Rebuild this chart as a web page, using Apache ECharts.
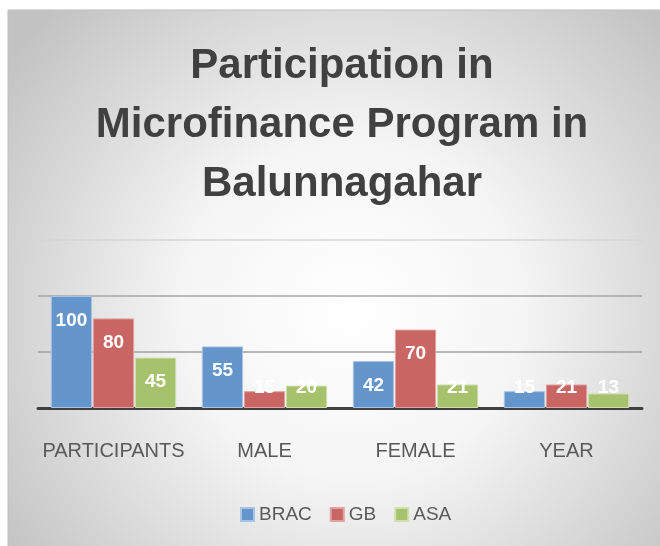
<!DOCTYPE html>
<html><head><meta charset="utf-8">
<script src="https://cdn.jsdelivr.net/npm/echarts@6/dist/echarts.min.js"></script>
<style>html,body{margin:0;padding:0;background:#fff}#c{width:660px;height:546px}</style>
</head><body><div id="c"></div>
<script>
const categories = ['PARTICIPANTS', 'MALE', 'FEMALE', 'YEAR'];
const brac = [100, 55, 42, 15];
const gb = [80, 15, 70, 21];
const asa = [45, 20, 21, 13];
const seriesNames = ['BRAC', 'GB', 'ASA'];
const yTicks = [0, 50, 100, 150];

const colors = ['#6495cb', '#c96562', '#a7c26c'];
const borders = ['#a9c4e6', '#e0a3a1', '#cfe0ad'];

function mk(vals, i) {
  return {
    name: seriesNames[i], type: 'bar', barGap: '2%', barCategoryGap: '17%',
    itemStyle: { color: colors[i], borderColor: borders[i], borderWidth: 1 },
    label: { show: true, position: 'insideTop', distance: 15, color: '#fff', fontWeight: 'bold',
      fontSize: 19, fontFamily: 'Liberation Sans, sans-serif' },
    data: vals.map(v => v < 30 ? { value: v, label: { position: 'insideBottom', distance: 11 } } : v)
  };
}

const chart = echarts.init(document.getElementById('c'), null, { renderer: 'canvas' });
chart.setOption({
  animation: false,
  graphic: [{
    type: 'rect', z: -10, silent: true,
    shape: { x: 8, y: 10, width: 660, height: 545 },
    style: {
      fill: { type: 'radial', x: 0.52, y: 0.55, r: 0.78,
        colorStops: [{ offset: 0, color: '#ffffff' }, { offset: 0.4, color: '#f5f5f5' }, { offset: 1, color: '#c2c2c2' }] },
      stroke: '#bdbdbd', lineWidth: 1
    }
  }],
  title: {
    text: 'Participation in\nMicrofinance Program in\nBalunnagahar',
    left: 337, textAlign: 'center', top: 32,
    textStyle: { fontFamily: 'Liberation Sans, sans-serif', fontWeight: 'bold',
      fontSize: 42, color: '#404040', lineHeight: 59 }
  },
  legend: {
    bottom: 17, left: 235, itemWidth: 13, itemHeight: 13, itemGap: 18,
    icon: 'rect',
    textStyle: { fontSize: 19, color: '#595959', fontFamily: 'Liberation Sans, sans-serif' },
    data: seriesNames
  },
  grid: { left: 38, right: 18, top: 240, bottom: 138 },
  xAxis: {
    type: 'category', data: categories,
    axisLine: { lineStyle: { color: '#404040', width: 3 } },
    axisTick: { show: false },
    axisLabel: { interval: 0, margin: 33, fontSize: 20, color: '#595959', fontFamily: 'Liberation Sans, sans-serif' }
  },
  yAxis: {
    type: 'value', min: yTicks[0], max: yTicks[yTicks.length - 1], interval: 50,
    axisLabel: { show: false }, axisLine: { show: false }, axisTick: { show: false },
    splitLine: { lineStyle: { color: ['#a0a0a0', '#a0a0a0', '#a6a6a6', '#d6d6d6'], width: 1.5 } }
  },
  series: [mk(brac, 0), mk(gb, 1), mk(asa, 2)]
});
</script></body></html>
